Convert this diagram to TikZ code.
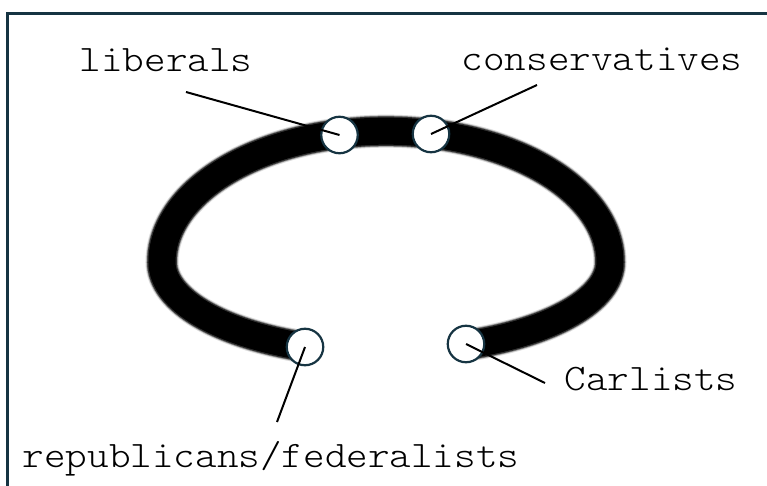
\documentclass[tikz,border=0pt]{standalone}
\usepackage{fontspec}
\newfontfamily\labfont[FakeStretch=1.1]{Latin Modern Mono Light}
\definecolor{frame}{RGB}{22,52,66}
\begin{document}
\begin{tikzpicture}[x=1pt,y=1pt,
  lbl/.style={font=\labfont\fontsize{37.4}{42}\selectfont, inner sep=0pt, anchor=base},
  party/.style={circle, draw=frame, line width=2.2pt, fill=white, minimum size=36.5pt, inner sep=0pt},
  leader/.style={draw=black, line width=2pt},
  framecol/.style={draw=frame, line width=3pt}]
\useasboundingbox (0,0) rectangle (767,485);
\clip (0,0) rectangle (767,485);
\fill[white] (0,0) rectangle (767,485);
% frame (only top and left sides visible)
\draw[framecol] (7.5,-20) |- (800,471.5);
% spectrum curve
\def\spectrum{(305,138) arc[start angle=248.8, end angle=180, x radius=224, y radius=91]
  arc[start angle=180, end angle=0, x radius=224, y radius=131]
  arc[start angle=0, end angle=-69, x radius=224, y radius=89]}
\draw[black!15, line width=33pt] \spectrum;
\draw[black!45, line width=31pt] \spectrum;
\draw[black!80, line width=29.5pt] \spectrum;
\draw[black, line width=27pt] \spectrum;
% circles
\node[party] (lib) at (339.5,350) {};
\node[party] (con) at (431,351) {};
\node[party] (rep) at (305,138) {};
\node[party] (car) at (466,141) {};
% labels
\node[lbl] (tlib) at (166,413) {liberals};
\node[lbl] (tcon) at (602,414) {conservatives};
\node[lbl] (tcar) at (651,95) {Carlists};
\node[lbl] (trep) at (271,18) {republicans/federalists};
% leader ends
\coordinate (elib) at (186,393);
\coordinate (econ) at (537,400);
\coordinate (ecar) at (545,102);
\coordinate (erep) at (277,63);
\draw[leader] (elib) -- (lib.center);
\draw[leader] (econ) -- (con.center);
\draw[leader] (ecar) -- (car.center);
\draw[leader] (erep) -- (rep.center);
\end{tikzpicture}
\end{document}
